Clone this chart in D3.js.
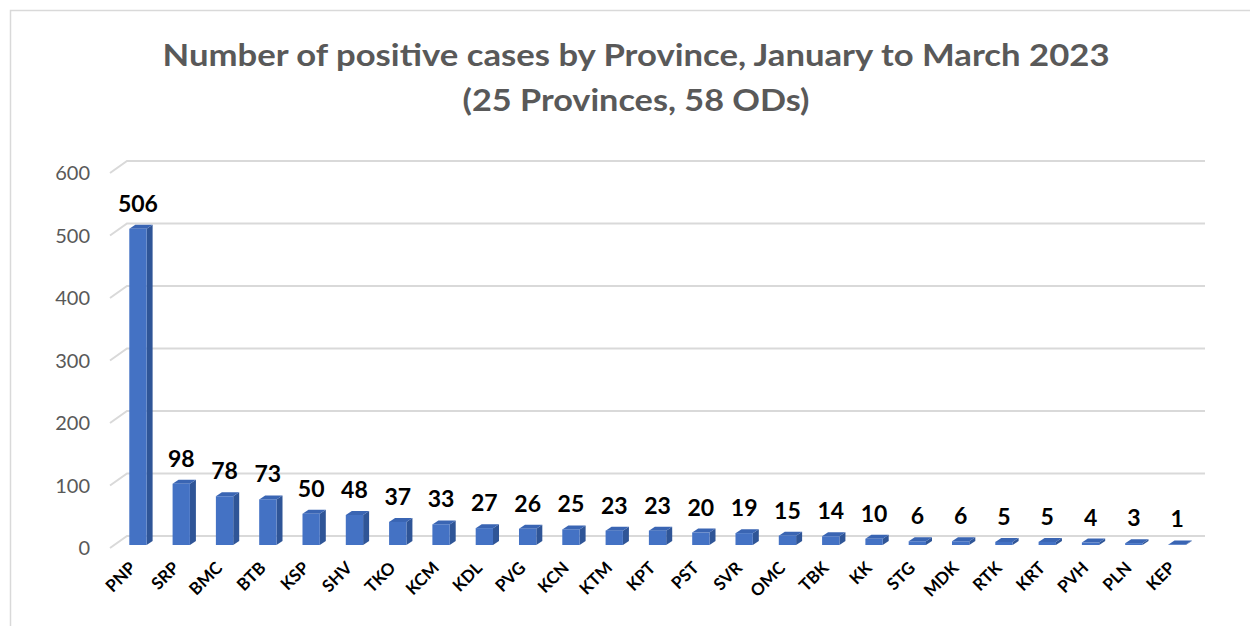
<!DOCTYPE html>
<html>
<head>
	<script src="https://d3js.org/d3.v7.min.js"></script>
	<style>
		body { margin: 0; background: #fff; }
		text { font-family: Lato, "Open Sans", sans-serif; }
	</style>
</head>
<body>
	<svg width="1250" height="626"></svg>
	<script>
		var provinces = ["PNP", "SRP", "BMC", "BTB", "KSP", "SHV", "TKO", "KCM", "KDL", "PVG", "KCN", "KTM", "KPT",
			"PST", "SVR", "OMC", "TBK", "KK", "STG", "MDK", "RTK", "KRT", "PVH", "PLN", "KEP"];
		var cases = [506, 98, 78, 73, 50, 48, 37, 33, 27, 26, 25, 23, 23, 20, 19, 15, 14, 10, 6, 6, 5, 5, 4, 3, 1];
		var yTicks = [0, 100, 200, 300, 400, 500, 600];
		var titleLines = ["Number of positive cases by Province, January to March 2023", "(25 Provinces, 58 ODs)"];
		var titleWidths = [947, 347];

		var svg = d3.select("svg");

		// chart area border
		svg.append("rect")
			.attr("x", 10.5).attr("y", 10.5)
			.attr("width", 1260).attr("height", 640)
			.attr("fill", "none").attr("stroke", "#d9d9d9").attr("stroke-width", 1.5);

		// front scale (floor edge), back wall is shifted up/right
		var y = d3.scaleLinear().domain([0, 600]).range([548, 173]);
		var wall = { dx: 17, dy: -12 };
		var barOff = { dx: 4, dy: -3 };
		var depth = { dx: 6, dy: -4 };

		var x = d3.scaleBand()
			.domain(provinces)
			.range([112.3, 1194.8])
			.paddingInner(0.6)
			.paddingOuter(0.3);

		// gridlines: slant on the side wall then across the back wall
		var grid = svg.append("g").attr("fill", "none").attr("stroke", "#d9d9d9").attr("stroke-width", 2);
		yTicks.forEach(function (t) {
			grid.append("path")
				.attr("d", "M110," + y(t) + "L" + (110 + wall.dx) + "," + (y(t) + wall.dy) + "H1205");
		});

		// y axis labels
		svg.append("g").selectAll("text")
			.data(yTicks)
			.join("text")
			.attr("x", 90)
			.attr("y", d => y(d))
			.attr("dy", "0.35em")
			.attr("text-anchor", "end")
			.attr("fill", "#595959")
			.style("font-size", "20px")
			.text(d => d);

		// 3D bars
		var bars = svg.append("g").selectAll("g")
			.data(provinces)
			.join("g");

		bars.each(function (p, i) {
			var g = d3.select(this);
			var x0 = x(p) + barOff.dx, x1 = x0 + x.bandwidth();
			var yb = y(0) + barOff.dy, yt = y(cases[i]) + barOff.dy;
			// side
			g.append("path")
				.attr("d", "M" + x1 + "," + yt + "L" + (x1 + depth.dx) + "," + (yt + depth.dy) +
					"L" + (x1 + depth.dx) + "," + (yb + depth.dy) + "L" + x1 + "," + yb + "Z")
				.attr("fill", "#2f5597");
			// top
			g.append("path")
				.attr("d", "M" + x0 + "," + yt + "L" + (x0 + depth.dx) + "," + (yt + depth.dy) +
					"L" + (x1 + depth.dx) + "," + (yt + depth.dy) + "L" + x1 + "," + yt + "Z")
				.attr("fill", "#3a65b3");
			// front
			g.append("rect")
				.attr("x", x0).attr("y", yt)
				.attr("width", x.bandwidth()).attr("height", yb - yt)
				.attr("fill", "#4472c4");
		});

		// value labels
		svg.append("g").selectAll("text")
			.data(provinces)
			.join("text")
			.attr("x", d => x(d) + x.bandwidth() / 2 + barOff.dx)
			.attr("y", (d, i) => y(cases[i]) + barOff.dy - 17)
			.attr("text-anchor", "middle")
			.attr("font-weight", "bold")
			.attr("fill", "#000")
			.style("font-size", "23px")
			.text((d, i) => cases[i]);

		// category labels
		svg.append("g").selectAll("text")
			.data(provinces)
			.join("text")
			.attr("transform", d => "translate(" + (x(d) + x.bandwidth() / 2 + 3) + ",569) rotate(-45)")
			.attr("text-anchor", "end")
			.attr("font-weight", "bold")
			.attr("fill", "#000")
			.style("font-size", "17px")
			.text(d => d);

		// title
		svg.append("g").selectAll("text")
			.data(titleLines)
			.join("text")
			.attr("x", 636)
			.attr("y", (d, i) => 66 + i * 45)
			.attr("text-anchor", "middle")
			.attr("textLength", (d, i) => titleWidths[i])
			.attr("lengthAdjust", "spacingAndGlyphs")
			.attr("font-weight", "bold")
			.attr("fill", "#595959")
			.style("font-size", "31px")
			.text(d => d);
	</script>
</body>
</html>
